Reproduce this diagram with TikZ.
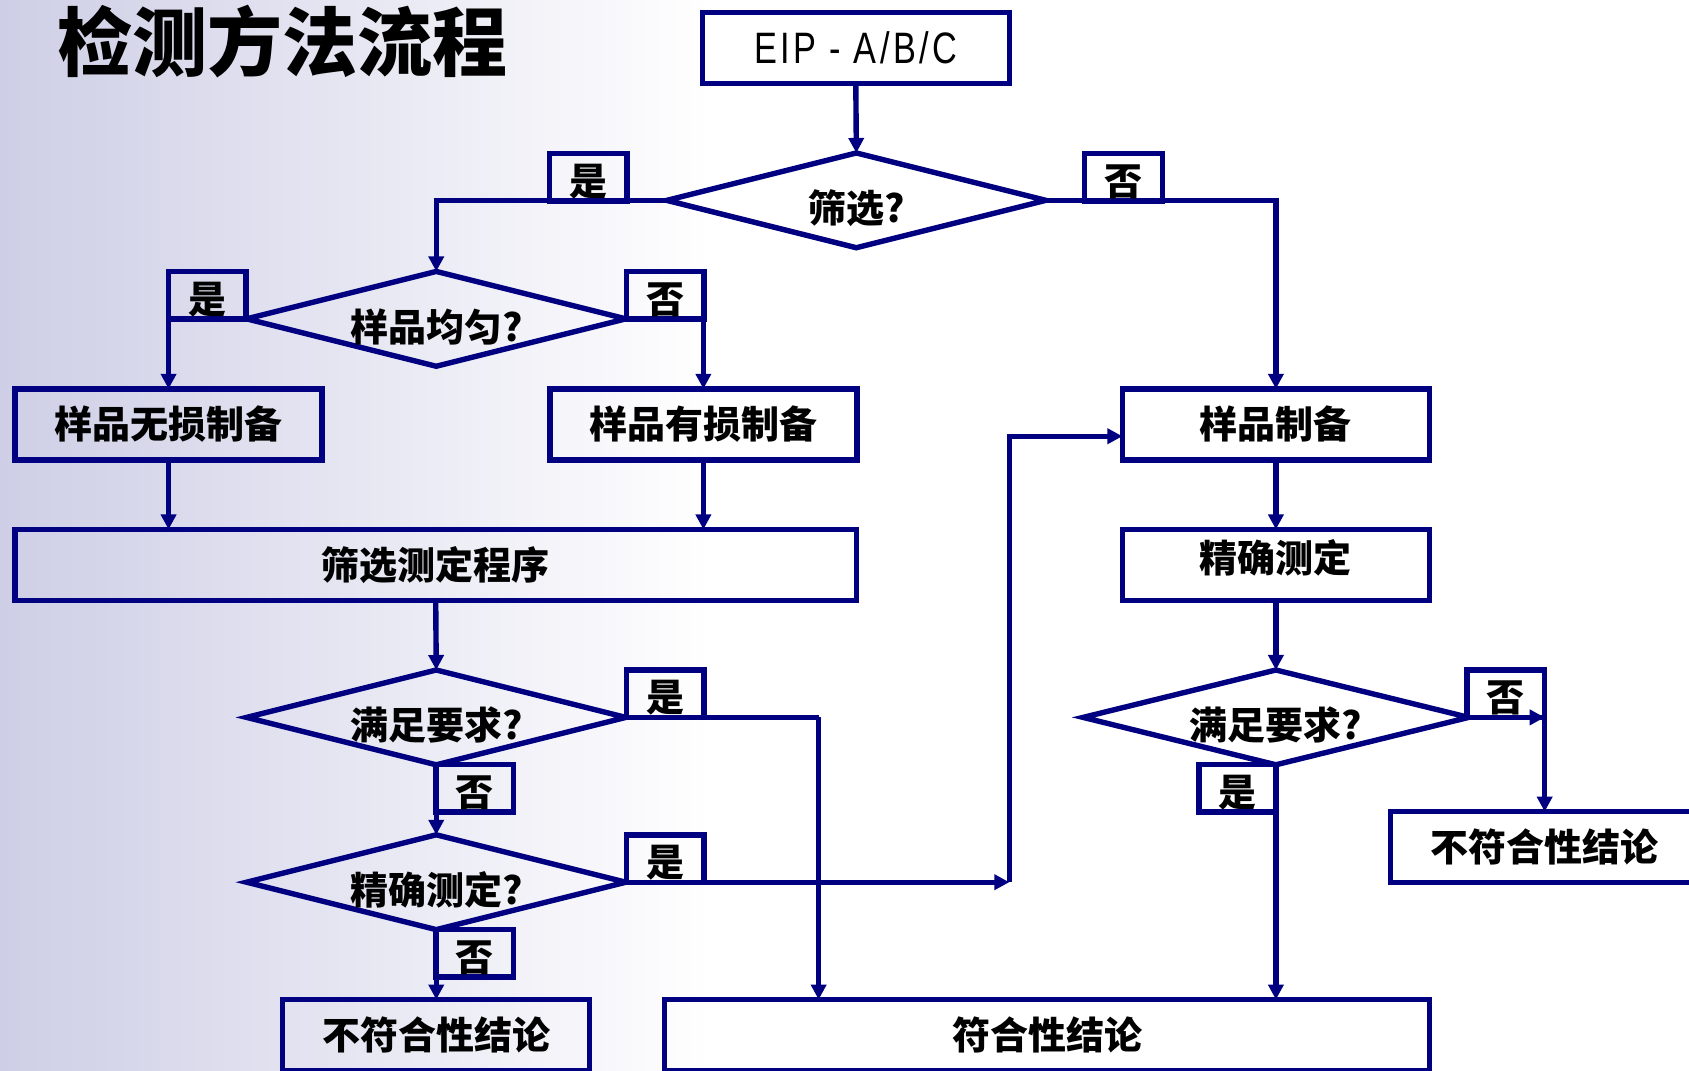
\documentclass[tikz,border=0pt]{standalone}
\usepackage{fontspec}
\setmainfont{Liberation Sans}
\newfontfamily\cjk{Noto Sans CJK SC}
\newfontfamily\eipfont{Liberation Sans}[FakeStretch=0.78,LetterSpace=8]
\usetikzlibrary{shapes.geometric,arrows.meta}
\definecolor{navy}{RGB}{0,0,128}
\definecolor{lav}{RGB}{206,206,230}
\newcommand\pxu{0.5386pt}
\begin{document}
\begin{tikzpicture}[x=0.5386pt,y=-0.5386pt,
  lbl/.style={font=\cjk\bfseries\fontsize{19}{22}\selectfont},
  conn/.style={draw=navy,line width=2.7pt,-{Triangle[length=7.5pt,width=7.5pt]}},
  seg/.style={draw=navy,line width=2.7pt},
  box/.style={draw=navy,line width=2.7pt,rectangle,inner sep=0pt,outer sep=0pt,minimum width=285*\pxu,minimum height=66*\pxu,lbl},
  dia/.style={draw=navy,line width=2.7pt,diamond,aspect=4,inner sep=0pt,outer sep=0pt,minimum width=352*\pxu,minimum height=88*\pxu},
  tag/.style={draw=navy,line width=2.7pt,rectangle,inner sep=0pt,outer sep=0pt,minimum width=72*\pxu,minimum height=44*\pxu,lbl,text depth=0pt,text height=18pt},
]
\useasboundingbox (0,0) rectangle (1568,994);
\fill[white] (0,0) rectangle (1568,994);
\shade[left color=lav,right color=white] (0,0) rectangle (660,994);

\node[anchor=west,inner sep=0pt,font=\cjk\bfseries\fontsize{37.5}{40}\selectfont] (title) at (53,39) {检测方法流程};

% main boxes
\node[box,font=\eipfont\fontsize{22}{24}\selectfont] (eip) at (794.5,44.5) {EIP - A/B/C};
\node[box] (nd) at (156.5,394) {样品无损制备};
\node[box] (yd) at (653,394) {样品有损制备};
\node[box,minimum width=781*\pxu] (scr) at (404.5,524.5) {筛选测定程序};
\node[box] (prep) at (1184.5,394) {样品制备};
\node[box,text depth=9pt] (acc) at (1184.5,524.5) {精确测定};
\node[box] (nc1) at (405,961) {不符合性结论};
\node[box,minimum width=710*\pxu] (conf) at (972,961) {符合性结论};
\node[box] (nc2) at (1433.5,786.5) {不符合性结论};

% diamonds
\node[dia,label={[lbl,yshift=-4pt]center:筛选?}] (d1) at (795,186) {};
\node[dia,label={[lbl,yshift=-4pt]center:样品均匀?}] (d2) at (405,296) {};
\node[dia,label={[lbl,yshift=-4pt]center:满足要求?}] (d3) at (405,666) {};
\node[dia,label={[lbl,yshift=-4pt]center:精确测定?}] (d4) at (405,819) {};
\node[dia,minimum width=358*\pxu,label={[lbl,yshift=-4pt]center:满足要求?}] (d5) at (1184.5,666) {};

% free corner points
\coordinate (c1) at (760,666);
\coordinate (c2) at (937,819);
\coordinate (c3) at (1434,666);

% connectors
\draw[conn] (eip.south) -- (d1.north);
\draw[conn] (d1.west) -| (d2.north);
\draw[conn] (d1.east) -| (prep.north);
\draw[conn] (d2.west) -| (nd.north);
\draw[conn] (d2.east) -| (yd.north);
\draw[conn] (nd.south) -- (nd.south |- scr.north);
\draw[conn] (yd.south) -- (yd.south |- scr.north);
\draw[conn] (scr.south) -- (d3.north);
\draw[seg] (d3.east) -- (c1);
\draw[conn] (c1) -- (c1 |- conf.north);
\draw[conn] (d3.south) -- (d4.north);
\draw[conn] (d4.east) -- (c2);
\draw[conn] (c2) |- ([yshift=-11*\pxu]prep.west);
\draw[conn] (d4.south) -- (nc1.north);
\draw[conn] (prep.south) -- (acc.north);
\draw[conn] (acc.south) -- (d5.north);
\draw[conn] (d5.east) -- (c3);
\draw[conn] (c3) -- (c3 |- nc2.north);
\draw[conn] (d5.south) -- (d5.south |- conf.north);

% yes/no tags
\node[tag] (t1) at (546,164.5) {是};
\node[tag] (t2) at (1043,164.5) {否};
\node[tag] (t3) at (192.5,274) {是};
\node[tag] (t4) at (617.5,274) {否};
\node[tag] (t5) at (617.5,644) {是};
\node[tag] (t6) at (440.5,732) {否};
\node[tag] (t7) at (617.5,797) {是};
\node[tag] (t8) at (440.5,885) {否};
\node[tag] (t9) at (1398,644) {否};
\node[tag] (t10) at (1149,732) {是};
\end{tikzpicture}
\end{document}
